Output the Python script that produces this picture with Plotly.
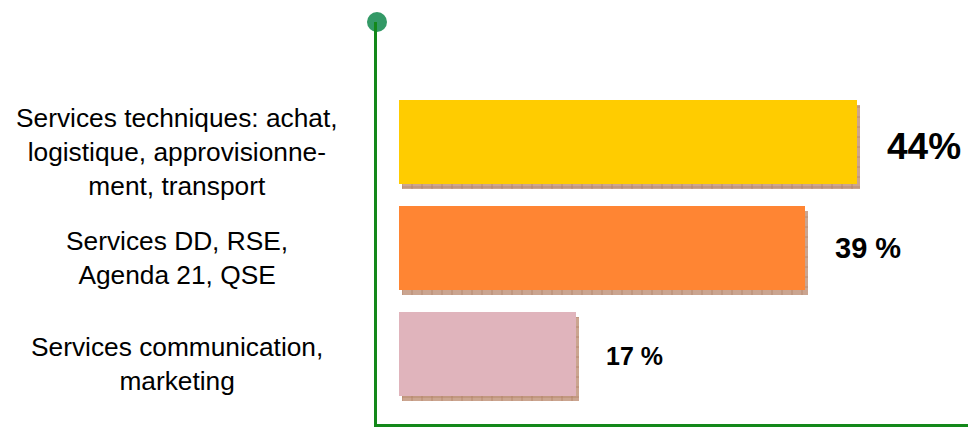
import plotly.graph_objects as go

# Data
categories = [
    "Services techniques: achat,<br>logistique, approvisionne-<br>ment, transport",
    "Services DD, RSE,<br>Agenda 21, QSE",
    "Services communication,<br>marketing",
]
values = [44, 39, 17]
value_labels = ["44%", "39 %", "17 %"]

# Styling
bar_colors = ["#FFCC00", "#FF8533", "#E0B4BC"]
value_font_sizes = [37, 29, 25]
value_yshifts = [-4, 0, -2]
axis_green = "#13881A"
font_family = "Liberation Sans, Arial, sans-serif"

positions = list(range(len(values)))
bar_width = 0.8
px_per_unit_x = 10.4          # horizontal scale (pixels per %)
px_per_unit_y = 106.0         # category spacing in pixels

fig = go.Figure()

# Drop shadow under each bar (shifted right and down)
fig.add_trace(go.Bar(
    y=positions,
    x=values,
    base=3 / px_per_unit_x,
    orientation="h",
    width=bar_width,
    offset=-bar_width / 2 + 5 / px_per_unit_y,
    marker=dict(
        color="#C9A28A",
        line=dict(width=0),
        pattern=dict(shape="+", fgcolor="#8B4A22", bgcolor="#CBA590",
                     size=10, solidity=0.12),
    ),
    hoverinfo="skip",
    showlegend=False,
))

# Main bars
fig.add_trace(go.Bar(
    y=positions,
    x=values,
    orientation="h",
    width=bar_width,
    offset=-bar_width / 2,
    marker=dict(color=bar_colors, line=dict(width=0)),
    showlegend=False,
))

plot_left, plot_right = 377, 968
plot_top, plot_bottom = 22, 424
x_min = -22 / px_per_unit_x
x_max = x_min + (plot_right - plot_left) / px_per_unit_x
y_top = -(142 - plot_top) / px_per_unit_y
y_bottom = y_top + (plot_bottom - plot_top) / px_per_unit_y

# Round end cap at the top of the vertical axis
fig.add_trace(go.Scatter(
    x=[x_min], y=[y_top], mode="markers",
    marker=dict(size=20, color="#339966", line=dict(width=0)),
    cliponaxis=False, hoverinfo="skip", showlegend=False,
))

# Category labels, centred in the left margin
for pos, text in zip(positions, categories):
    fig.add_annotation(
        x=(177 - plot_left) / (plot_right - plot_left), xref="paper",
        y=pos, yref="y", yshift=-10,
        text=text, showarrow=False, align="center",
        xanchor="center", yanchor="middle",
        font=dict(family=font_family, size=26.3, color="#000000"),
    )

# Value labels to the right of each bar
for pos, v, lab, fs, ys in zip(positions, values, value_labels,
                               value_font_sizes, value_yshifts):
    fig.add_annotation(
        x=v, xref="x", y=pos, yref="y", xshift=28, yshift=ys,
        text=lab, showarrow=False, xanchor="left", yanchor="middle",
        font=dict(family=font_family, size=fs, color="#000000", weight="bold"),
    )

fig.update_layout(
    width=968, height=428,
    margin=dict(l=plot_left, r=968 - plot_right, t=plot_top, b=428 - plot_bottom),
    paper_bgcolor="white", plot_bgcolor="white",
    barmode="overlay",
    bargap=0,
    xaxis=dict(range=[x_min, x_max], showgrid=False, zeroline=False,
               showticklabels=False, ticks="", showline=True,
               linecolor=axis_green, linewidth=3, fixedrange=True),
    yaxis=dict(range=[y_bottom, y_top], showgrid=False, zeroline=False,
               showticklabels=False, ticks="", showline=True,
               linecolor=axis_green, linewidth=3, fixedrange=True),
    font=dict(family=font_family),
)

fig.write_html("out.html", config={"displayModeBar": False})
